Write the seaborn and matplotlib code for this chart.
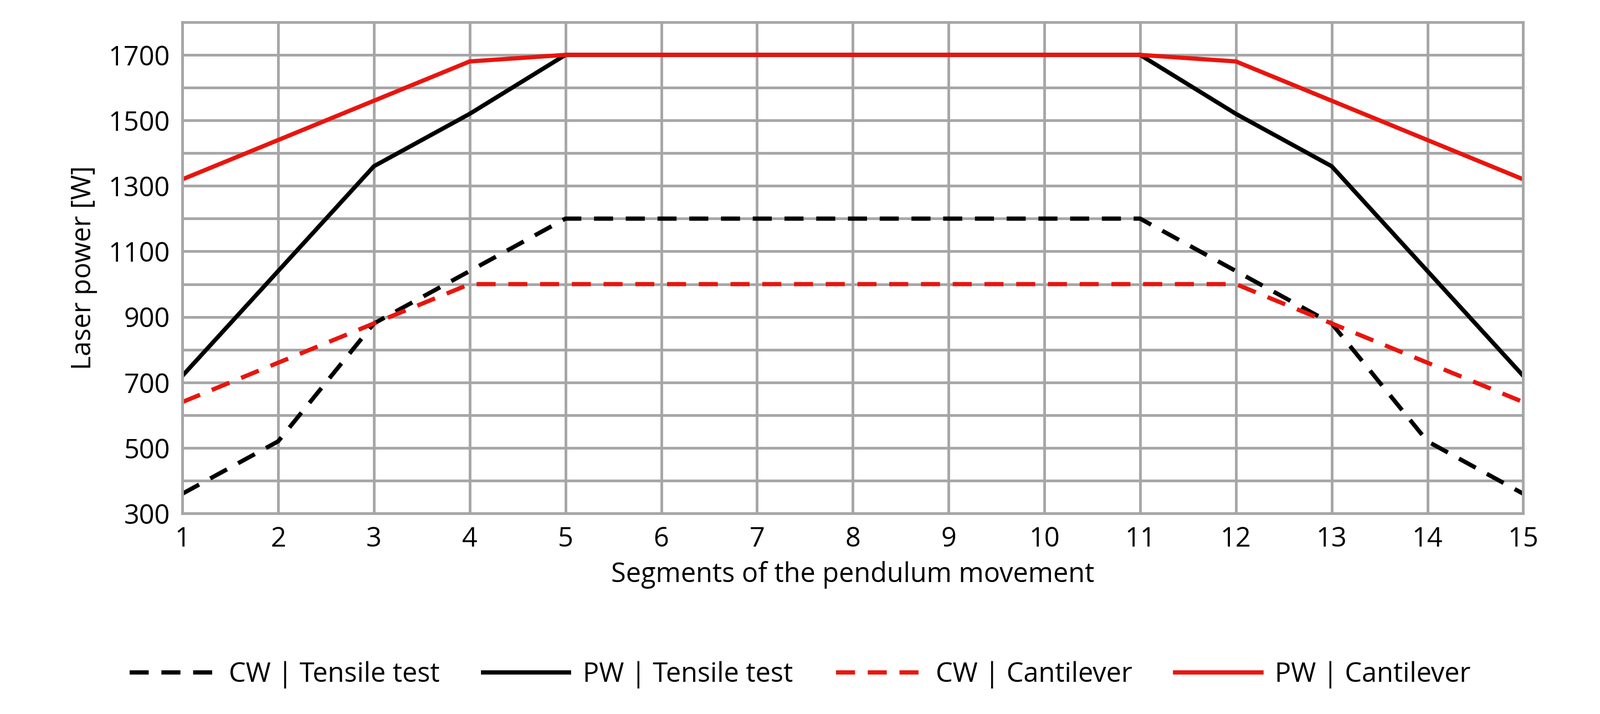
import matplotlib
matplotlib.use("Agg")
import matplotlib.pyplot as plt
import seaborn as sns
import pandas as pd

segments = list(range(1, 16))
cw_tensile = [360, 520, 880, 1040, 1200, 1200, 1200, 1200, 1200, 1200, 1200, 1040, 880, 520, 360]
pw_tensile = [720, 1040, 1360, 1520, 1700, 1700, 1700, 1700, 1700, 1700, 1700, 1520, 1360, 1040, 720]
cw_cantilever = [640, 760, 880, 1000, 1000, 1000, 1000, 1000, 1000, 1000, 1000, 1000, 880, 760, 640]
pw_cantilever = [1320, 1440, 1560, 1680, 1700, 1700, 1700, 1700, 1700, 1700, 1700, 1680, 1560, 1440, 1320]
names = ["CW | Tensile test", "PW | Tensile test", "CW | Cantilever", "PW | Cantilever"]

plt.rcParams["font.family"] = "Open Sans"
fig = plt.figure(figsize=(28.88, 12.88), dpi=100)
ax = fig.add_axes([0.114, 0.281, 0.838, 0.688])

series = [cw_tensile, pw_tensile, cw_cantilever, pw_cantilever]
colors = ["black", "black", "#e8150e", "#e8150e"]
styles = [(0, (4.5, 3)), "-", (0, (4.5, 3)), "-"]
for n, vals, c, ls in zip(names, series, colors, styles):
    df = pd.DataFrame({"x": segments, "y": vals})
    sns.lineplot(data=df, x="x", y="y", ax=ax, color=c, linestyle=ls, lw=5.5, label=n)

ax.set_xlim(1, 15)
ax.set_ylim(300, 1800)
ax.set_xticks(segments)
ax.set_yticks(range(300, 1800, 100))
ax.set_yticklabels([str(v) if (v - 300) % 200 == 0 else "" for v in range(300, 1800, 100)])
ax.grid(True, color="#a6a6a6", lw=3.5)
ax.set_axisbelow(True)
for s in ax.spines.values():
    s.set_color("#a6a6a6"); s.set_linewidth(3.5)
ax.tick_params(length=0, labelsize=35, pad=16)
ax.set_xlabel("Segments of the pendulum movement", fontsize=35, labelpad=10)
ax.set_ylabel("Laser power [W]", fontsize=35, labelpad=14)
ax.legend(loc="center", bbox_to_anchor=(0.5, 0.055), bbox_transform=fig.transFigure,
          ncol=4, frameon=False, fontsize=35, handlelength=3.2, columnspacing=1.6,
          handletextpad=0.5)
fig.savefig("out.png", dpi=100)
